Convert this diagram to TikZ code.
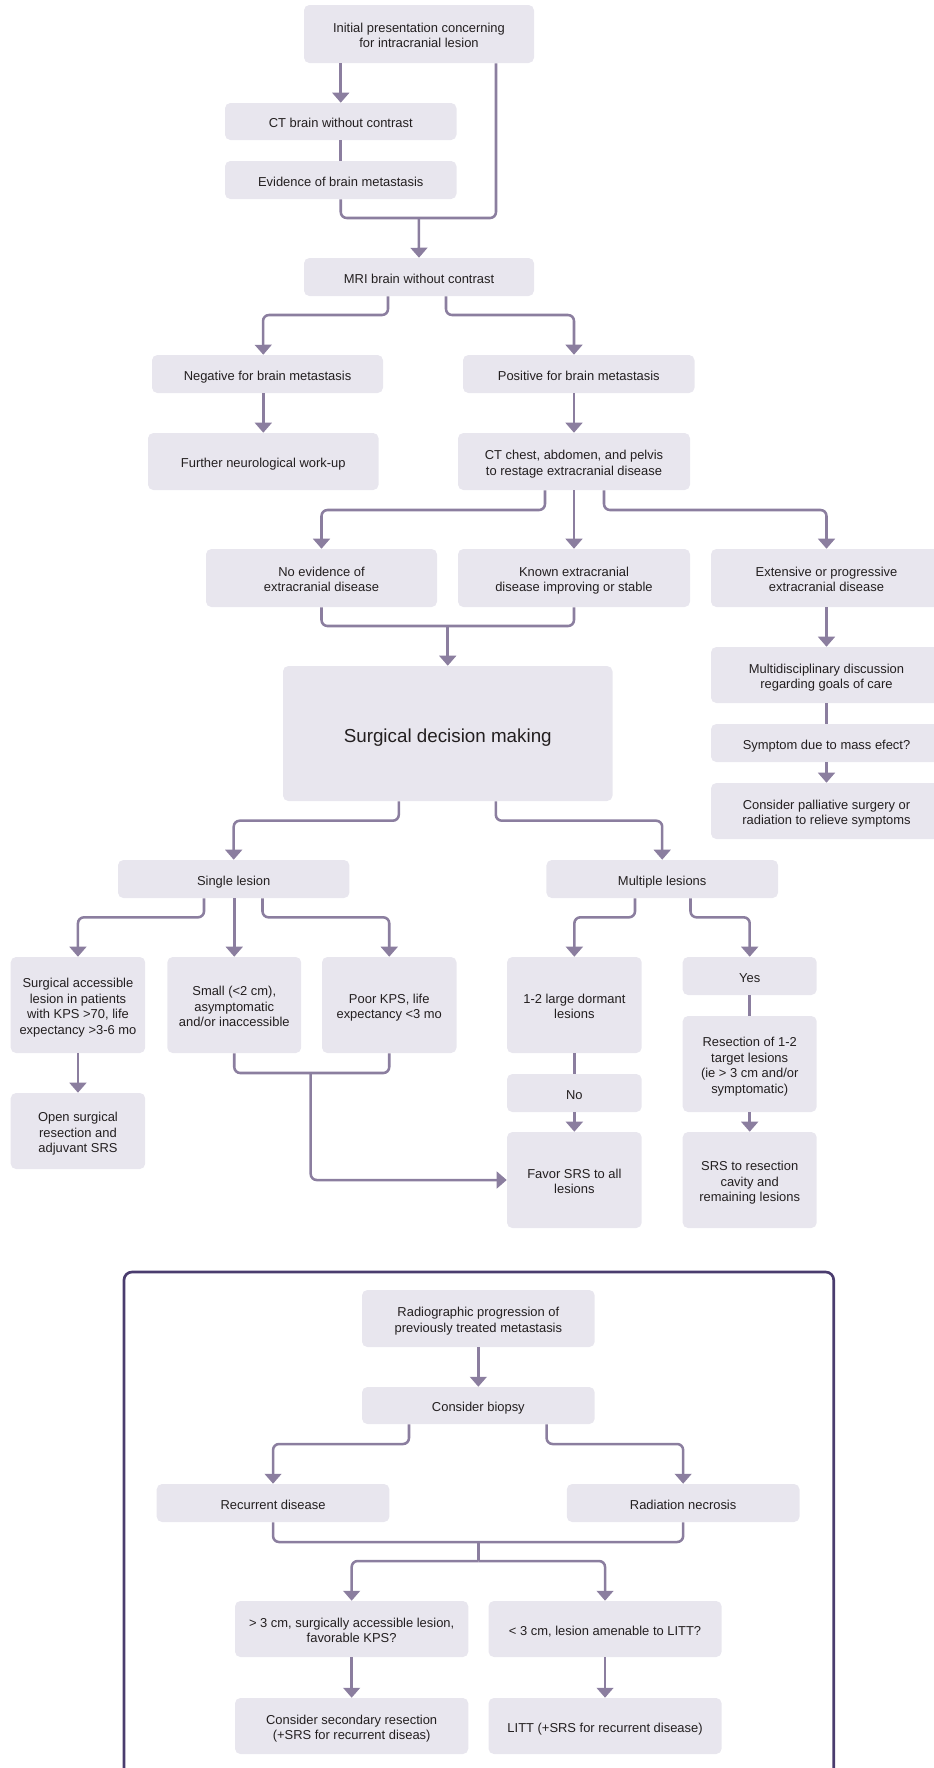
\documentclass[tikz,border=0pt]{standalone}
\usepackage{fontspec}
\setmainfont{Liberation Sans}
\usetikzlibrary{arrows.meta}
\definecolor{boxfill}{HTML}{E8E6EE}
\definecolor{conn}{HTML}{8B7E9F}
\definecolor{framec}{HTML}{4A3C6E}
\definecolor{txt}{HTML}{231F20}
% #1 options, #2 name, #3 x1, #4 y1, #5 x2, #6 y2, #7 text
\newcommand\flowbox[7][]{%
  \node[box,#1,minimum width={(#5-#3)*0.75pt},minimum height={(#6-#4)*0.75pt}]
    (#2) at ({(#3+#5)/2},{(#4+#6)/2})
    {\raisebox{-2.2pt}[\height][\depth]{\begin{tabular}{@{}c@{}}#7\end{tabular}}};}
\begin{document}
\begin{tikzpicture}[x=0.75pt,y=-0.75pt,
  box/.style={fill=boxfill, rounded corners=4pt, inner sep=0pt, align=center, text=txt,
    font=\fontsize{9.7}{11.7}\selectfont},
  big/.style={font=\fontsize{14.1}{17}\selectfont},
  line/.style={draw=conn, line width=1.9pt, rounded corners=4.5pt},
  arr/.style={line, -{Triangle[width=12.5pt,length=7.5pt]}},
  frame/.style={draw=framec, line width=2pt, rounded corners=6pt},
]
\useasboundingbox (0,0) rectangle (933,1768);

% ---------- boxes ----------
\flowbox{init}{304}{5}{534}{63}{Initial presentation concerning\\for intracranial lesion}
\flowbox{ct}{225}{103}{456.5}{140}{CT brain without contrast}
\flowbox{ev}{225}{161}{456.5}{199}{Evidence of brain metastasis}
\flowbox{mri}{304}{258}{534}{296}{MRI brain without contrast}
\flowbox{neg}{152}{355}{383}{393}{Negative for brain metastasis}
\flowbox{pos}{463}{355}{694.5}{393}{Positive for brain metastasis}
\flowbox{fur}{148}{433}{378.6}{490}{Further neurological work-up}
\flowbox{ctc}{458}{433}{690}{490}{CT chest, abdomen, and pelvis\\to restage extracranial disease}
\flowbox{noev}{206}{549}{437}{607}{No evidence of\\extracranial disease}
\flowbox{known}{458}{549}{690}{607}{Known extracranial\\disease improving or stable}
\flowbox{ext}{711}{549}{942}{607}{Extensive or progressive\\extracranial disease}
\node[box, big, minimum width={329.5*0.75pt}, minimum height={135*0.75pt}] (surg)
  at (447.75,733.5) {\raisebox{-3.2pt}[\height][\depth]{\begin{tabular}{@{}c@{}}Surgical decision making\end{tabular}}};
\flowbox{multi}{711}{647}{942}{703}{Multidisciplinary discussion\\regarding goals of care}
\flowbox{symp}{711}{724}{942}{762}{Symptom due to mass efect?}
\flowbox{pall}{711}{783}{942}{839}{Consider palliative surgery or\\radiation to relieve symptoms}
\flowbox{single}{118}{860}{349.4}{898}{Single lesion}
\flowbox{mult}{546.4}{860}{778}{898}{Multiple lesions}
\flowbox{sa}{10.7}{957}{145.2}{1053}{Surgical accessible\\lesion in patients\\with KPS >70, life\\expectancy >3-6 mo}
\flowbox{small}{167.3}{957}{301.2}{1053}{Small (<2 cm),\\asymptomatic\\and/or inaccessible}
\flowbox{poor}{322}{957}{456.5}{1053}{Poor KPS, life\\expectancy <3 mo}
\flowbox{large}{507}{957}{641.7}{1053}{1-2 large dormant\\lesions}
\flowbox{yes}{682.7}{957}{816.7}{995}{Yes}
\flowbox{no}{507}{1074}{641.7}{1112}{No}
\flowbox{res}{682.7}{1016}{816.7}{1112}{Resection of 1-2\\target lesions\\(ie > 3 cm and/or\\symptomatic)}
\flowbox{open}{10.7}{1093}{145.2}{1169}{Open surgical\\resection and\\adjuvant SRS}
\flowbox{favor}{507}{1132}{641.7}{1228}{Favor SRS to all\\lesions}
\flowbox{srs}{682.7}{1132}{816.7}{1228}{SRS to resection\\cavity and\\remaining lesions}

% ---------- lower frame ----------
\draw[frame] (124,1800) -- (124,1272) -- (833.7,1272) -- (833.7,1800);
\flowbox{rad}{362}{1290}{594.7}{1347}{Radiographic progression of\\previously treated metastasis}
\flowbox{bio}{362}{1387}{594.7}{1424}{Consider biopsy}
\flowbox{rec}{156.7}{1484}{389.4}{1522}{Recurrent disease}
\flowbox{nec}{566.8}{1484}{799.5}{1522}{Radiation necrosis}
\flowbox{gt}{235}{1601}{468.3}{1657}{> 3 cm, surgically accessible lesion,\\favorable KPS?}
\flowbox{lt}{488.5}{1601}{721.6}{1657}{< 3 cm, lesion amenable to LITT?}
\flowbox{sec}{235}{1698}{468.3}{1754}{Consider secondary resection\\(+SRS for recurrent diseas)}
\flowbox{litt}{488.5}{1698}{721.6}{1754}{LITT (+SRS for recurrent disease)}

% ---------- junction coordinates ----------
\coordinate (j1) at (418.8,218);
\coordinate (j2) at (447.75,626);
\coordinate (j4) at (310.7,1073);
\coordinate (j5) at (478.4,1542);
\coordinate (j6) at (478.4,1561);

% ---------- connectors ----------
\draw[arr] (init.south -| ct.north) -- (ct.north);
\draw[line] (ct.south) -- (ev.north);
\draw[line] (ev.south) |- (496,218) -- (init.south -| 496,0);
\draw[arr] (j1) -- (mri.north);

\draw[arr] (mri.south -| 388,0) |- (263,315) -- (fur.north |- neg.north);
\draw[arr] (mri.south -| 446,0) |- (574,315) -- (ctc.north |- pos.north);
\draw[arr] (fur.north |- neg.south) -- (fur.north);
\draw[arr] (ctc.north |- pos.south) -- (ctc.north);

\draw[arr] (ctc.south -| 545,0) |- (321.5,510) -- (noev.north);
\draw[arr] (ctc.south) -- (known.north);
\draw[arr] (ctc.south -| 604,0) |- (826.5,510) -- (ext.north);

\draw[line] (noev.south) |- (known.south |- j2) -- (known.south);
\draw[arr] (j2) -- (surg.north);

\draw[arr] (ext.south) -- (multi.north);
\draw[line] (multi.south) -- (symp.north);
\draw[arr] (symp.south) -- (pall.north);

\draw[arr] (surg.south -| 398.8,0) |- (single.north |- 0,820.7) -- (single.north);
\draw[arr] (surg.south -| 495.8,0) |- (mult.north |- 0,820.7) -- (mult.north);

\draw[arr] (single.south -| 204,0) |- (sa.north |- 0,917.3) -- (sa.north);
\draw[arr] (single.south -| small.north) -- (small.north);
\draw[arr] (single.south -| 262.5,0) |- (poor.north |- 0,917.3) -- (poor.north);
\draw[arr] (mult.south -| 635,0) |- (large.north |- 0,917.3) -- (large.north);
\draw[arr] (mult.south -| 690.5,0) |- (yes.north |- 0,917.3) -- (yes.north);

\draw[arr] (sa.south) -- (open.north);
\draw[line] (small.south) |- (poor.south |- j4) -- (poor.south);
\draw[arr] (j4) |- (favor.west);
\draw[line] (large.south) -- (no.north);
\draw[arr] (no.south) -- (favor.north);
\draw[line] (yes.south) -- (res.north);
\draw[arr] (res.south) -- (srs.north);

\draw[arr] (rad.south) -- (bio.north);
\draw[arr] (bio.south -| 409,0) |- (rec.north |- 0,1444) -- (rec.north);
\draw[arr] (bio.south -| 546.6,0) |- (nec.north |- 0,1444) -- (nec.north);
\draw[line] (rec.south) |- (nec.south |- j5) -- (nec.south);
\draw[line] (j5) -- (j6);
\draw[arr] (j6) -| (gt.north);
\draw[arr] (j6) -| (lt.north);
\draw[arr] (gt.south) -- (sec.north);
\draw[arr] (lt.south) -- (litt.north);
\end{tikzpicture}
\end{document}
